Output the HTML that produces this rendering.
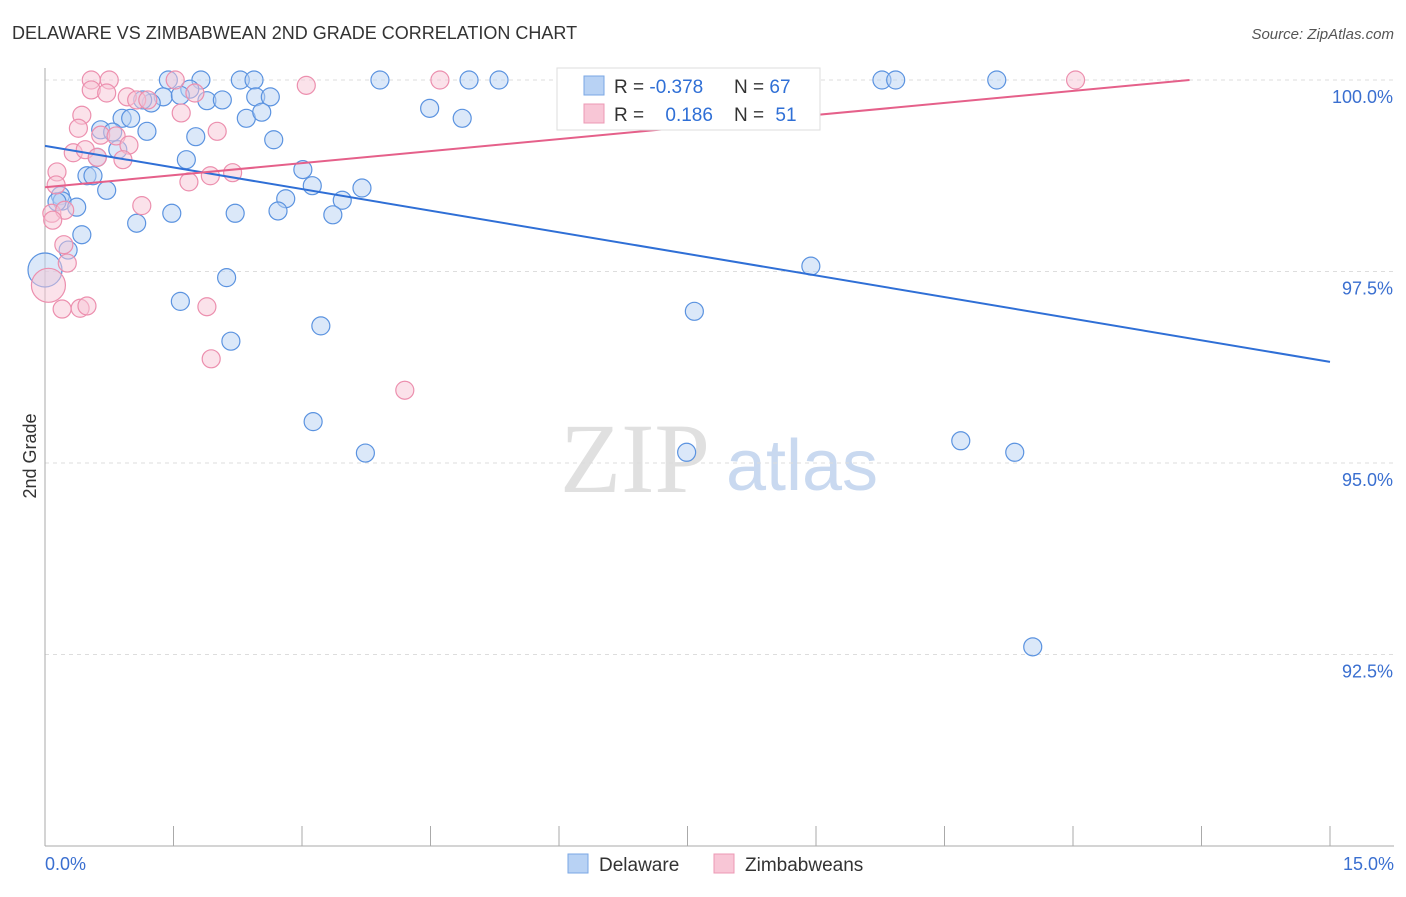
<!DOCTYPE html>
<html><head><meta charset="utf-8"><style>
body{margin:0;background:#fff;font-family:"Liberation Sans",sans-serif;}
svg text{font-family:"Liberation Sans",sans-serif;}
</style></head><body>
<svg id="chart" width="1406" height="892" xmlns="http://www.w3.org/2000/svg">
<text x="12" y="39" font-size="18" fill="#333">DELAWARE VS ZIMBABWEAN 2ND GRADE CORRELATION CHART</text>
<text x="1394" y="39" font-size="15" fill="#555" text-anchor="end" font-style="italic">Source: ZipAtlas.com</text>
<text x="36" y="456" font-size="18" fill="#333" text-anchor="middle" transform="rotate(-90 36 456)">2nd Grade</text>
<g>
<text x="635" y="492" font-size="100" fill="#e0e0e0" text-anchor="middle" style="font-family:'Liberation Serif',serif">ZIP</text>
<text x="802" y="490" font-size="72" fill="#c9d9f0" text-anchor="middle">atlas</text>
</g>
<g id="grid"></g><g id="axes"></g><g id="pts"></g><g id="lines"></g>
<g>
<rect x="557" y="68" width="263" height="62" fill="#fff" stroke="#ddd"/>
<rect x="584" y="76" width="20" height="19" fill="#b8d2f4" stroke="#7aa7e4"/>
<rect x="584" y="104" width="20" height="19" fill="#f8c6d6" stroke="#ec98b4"/>
<text x="614" y="93" font-size="19" fill="#333">R = <tspan fill="#2f6fd6">-0.378</tspan></text>
<text x="734" y="93" font-size="19" fill="#333">N = <tspan fill="#2f6fd6">67</tspan></text>
<text x="614" y="121" font-size="19" fill="#333">R = <tspan fill="#2f6fd6" dx="16">0.186</tspan></text>
<text x="734" y="121" font-size="19" fill="#333">N = <tspan fill="#2f6fd6" dx="6">51</tspan></text>
</g>
<g>
<rect x="568" y="854" width="20" height="19" fill="#b8d2f4" stroke="#7aa7e4"/>
<text x="599" y="871" font-size="19" fill="#333">Delaware</text>
<rect x="714" y="854" width="20" height="19" fill="#f8c6d6" stroke="#ec98b4"/>
<text x="745" y="871" font-size="19" fill="#333">Zimbabweans</text>
</g>
</svg>
<script>
const blueX=[1.44,1.82,2.28,2.44,3.91,4.95,5.30,9.77,9.93,11.11,1.69,1.38,1.58,1.89,2.07,2.46,2.63,1.24,1.14,0.90,1.00,2.35,2.53,4.49,4.87,0.65,0.79,1.19,1.76,2.67,0.61,0.85,1.65,3.01,0.49,0.56,3.12,3.70,0.72,2.81,3.47,0.18,0.20,0.37,1.48,2.22,2.72,3.36,1.07,0.43,0.27,0,2.12,8.94,1.58,7.58,3.22,2.17,3.13,3.74,7.49,10.69,11.32,11.53,0.14];
const blueY=[100,100,100,100,100,100,100,100,100,100,99.88,99.78,99.80,99.73,99.74,99.78,99.78,99.70,99.74,99.50,99.50,99.50,99.58,99.63,99.50,99.35,99.32,99.33,99.26,99.22,98.99,99.09,98.96,98.83,98.75,98.75,98.62,98.59,98.56,98.45,98.43,98.49,98.42,98.34,98.26,98.26,98.29,98.24,98.13,97.98,97.78,97.52,97.42,97.57,97.11,96.98,96.79,96.59,95.54,95.13,95.14,95.29,95.14,92.60,98.41];
const pinkX=[0.54,0.75,1.52,3.05,4.61,12.03,0.54,0.72,0.96,1.07,1.20,1.75,1.59,0.43,0.39,0.65,0.83,2.01,0.98,0.33,0.47,0.91,0.61,0.14,0.13,2.19,1.93,1.68,1.13,0.08,0.23,0.09,0.22,0.26,0.04,0.20,0.41,0.49,1.89,1.94,4.20];
const pinkY=[100,100,100,99.93,100,100,99.87,99.83,99.78,99.74,99.74,99.83,99.57,99.54,99.37,99.28,99.27,99.33,99.15,99.05,99.09,98.96,98.99,98.80,98.63,98.79,98.75,98.67,98.36,98.26,98.30,98.17,97.85,97.61,97.32,97.01,97.02,97.05,97.04,96.36,95.95];
const bigBlue=[51], bigPink=[34];
const blueTrend=[[0,99.14],[15,96.32]];
const pinkTrend=[[0,98.6],[13.36,100]];
const yTicks=[100,97.5,95,92.5];
const yTickLabels=["100.0%","97.5%","95.0%","92.5%"];
const xTickCount=10;
const NS="http://www.w3.org/2000/svg";
const X=v=>45+v*(1285/15);
const Y=v=>80+(100-v)*76.6;
function mk(t,a,p){const e=document.createElementNS(NS,t);for(const k in a)e.setAttribute(k,a[k]);p.appendChild(e);return e;}
const grid=document.getElementById('grid'),axes=document.getElementById('axes'),pts=document.getElementById('pts'),lines=document.getElementById('lines');
yTicks.forEach((t,i)=>{
 const l=mk('line',{x1:45,x2:1394,y1:Y(t),y2:Y(t),stroke:'#ddd','stroke-dasharray':'4,4'},grid);
 
 
 const tx=mk('text',{x:1393,y:Y(t)+23,'font-size':18,fill:'#3a6fd0','text-anchor':'end'},axes);
 tx.textContent=yTickLabels[i];
 
 
});
const ya=mk('line',{x1:45,x2:45,y1:68,y2:846,stroke:'#aaa'},axes);


const xa=mk('line',{x1:45,x2:1394,y1:846,y2:846,stroke:'#aaa'},axes);


for(let i=0;i<=xTickCount;i++){
 const v=i*15/xTickCount;
 const t=mk('line',{x1:X(v),x2:X(v),y1:826,y2:846,stroke:'#aaa'},axes);
 
 
}
const xl0=mk('text',{x:45,y:870,'font-size':18,fill:'#3a6fd0'},axes);xl0.textContent='0.0%';


const xl1=mk('text',{x:1394,y:870,'font-size':18,fill:'#3a6fd0','text-anchor':'end'},axes);xl1.textContent='15.0%';


function drawPts(xs,ys,big,fill,stroke,name){
 xs.forEach((x,i)=>{
  const c=mk('circle',{cx:X(x),cy:Y(ys[i]),r:big.includes(i)?17:9,fill:fill,'fill-opacity':0.5,stroke:stroke,'stroke-width':1.2},pts);
  
  
 });
}
drawPts(blueX,blueY,bigBlue,'#b8d2f4','#5b93e0','delaware-point');
drawPts(pinkX,pinkY,bigPink,'#f8c6d6','#ec8fae','zimbabweans-point');
const bl=mk('line',{x1:X(blueTrend[0][0]),y1:Y(blueTrend[0][1]),x2:X(blueTrend[1][0]),y2:Y(blueTrend[1][1]),stroke:'#2f6fd6','stroke-width':2},lines);


const pl=mk('line',{x1:X(pinkTrend[0][0]),y1:Y(pinkTrend[0][1]),x2:X(pinkTrend[1][0]),y2:Y(pinkTrend[1][1]),stroke:'#e5608a','stroke-width':2},lines);


</script>
</body></html>
